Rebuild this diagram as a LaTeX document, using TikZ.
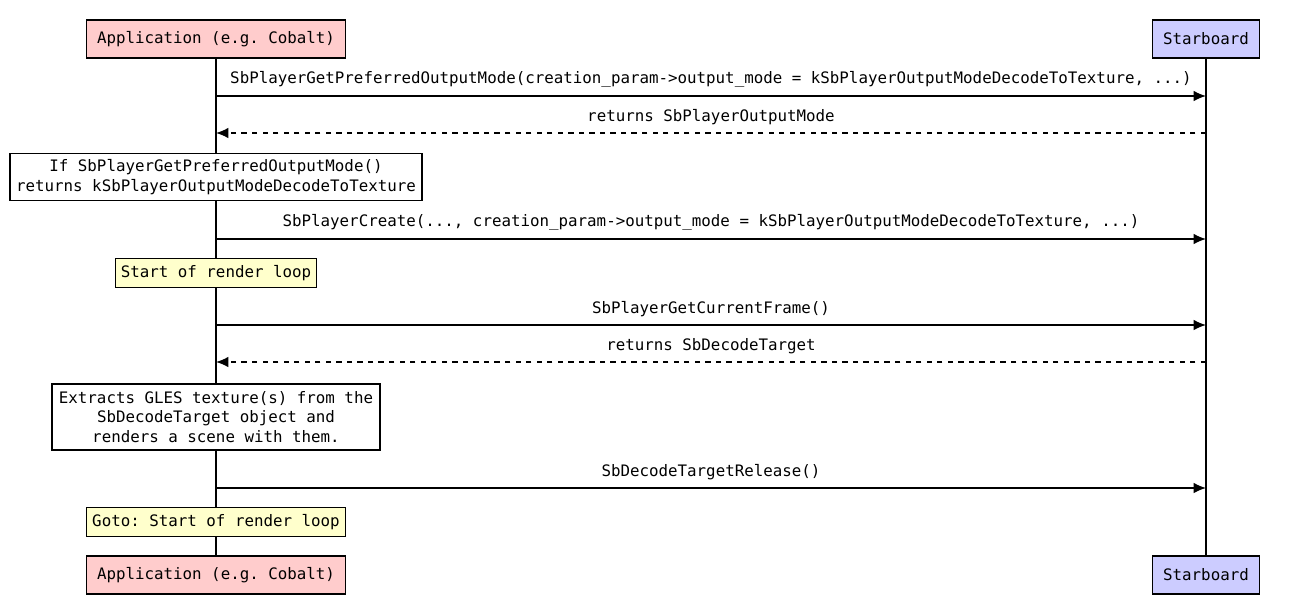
\documentclass[tikz,border=0pt]{standalone}
\usepackage{fontspec}
\setmonofont{DejaVu Sans Mono}
\usetikzlibrary{arrows.meta}
\definecolor{apppink}{HTML}{FFCCCC}
\definecolor{sbblue}{HTML}{CCCCFF}
\definecolor{noteyellow}{HTML}{FFFFCC}
\begin{document}
\begin{tikzpicture}[
                x=0.02cm, y=-0.02cm,
                every node/.style={font=\ttfamily\fontsize{9}{11}\selectfont},
                actor/.style={draw, thick, minimum height=0.76cm, inner sep=0pt},
                note/.style={draw, thick, align=center, inner sep=2pt},
                msg/.style={thick, -{Latex[length=7pt, width=6pt]}},
                reply/.style={msg, dashed}
            ]
                \useasboundingbox (0, 0) rectangle (1289, 613);

                % actors
                \node[actor, fill=apppink, minimum width=5.18cm] (app) at (216, 39) {Application (e.g. Cobalt)};
                \node[actor, fill=sbblue, minimum width=2.14cm] (sb) at (1206, 39) {Starboard};
                \node[actor, fill=apppink, minimum width=5.18cm] (appb) at (216, 575) {Application (e.g. Cobalt)};
                \node[actor, fill=sbblue, minimum width=2.14cm] (sbb) at (1206, 575) {Starboard};
                \draw[thick] (app) -- (appb);
                \draw[thick] (sb) -- (sbb);

                % messages
                \foreach \y/\kind/\txt in {
                    96/msg/{SbPlayerGetPreferredOutputMode(creation\_param->output\_mode = kSbPlayerOutputModeDecodeToTexture, ...)},
                    133/reply/{returns SbPlayerOutputMode},
                    239/msg/{SbPlayerCreate(..., creation\_param->output\_mode = kSbPlayerOutputModeDecodeToTexture, ...)},
                    325/msg/{SbPlayerGetCurrentFrame()},
                    362/reply/{returns SbDecodeTarget},
                    488/msg/{SbDecodeTargetRelease()}} {
                    \coordinate (l\y) at (216, \y);
                    \coordinate (r\y) at (1206, \y);
                    \ifx\kind\empty\fi
                }
                \draw[msg] (l96) -- node[above=1pt] {SbPlayerGetPreferredOutputMode(creation\_param->output\_mode = kSbPlayerOutputModeDecodeToTexture, ...)} (r96);
                \draw[reply] (r133) -- node[above=1pt] {returns SbPlayerOutputMode} (l133);
                \draw[msg] (l239) -- node[above=1pt] {SbPlayerCreate(..., creation\_param->output\_mode = kSbPlayerOutputModeDecodeToTexture, ...)} (r239);
                \draw[msg] (l325) -- node[above=1pt] {SbPlayerGetCurrentFrame()} (r325);
                \draw[reply] (r362) -- node[above=1pt] {returns SbDecodeTarget} (l362);
                \draw[msg] (l488) -- node[above=1pt] {SbDecodeTargetRelease()} (r488);

                % notes
                \node[note, fill=white, minimum width=8.24cm, minimum height=0.94cm] (if) at (216, 177) {If SbPlayerGetPreferredOutputMode()\\returns kSbPlayerOutputModeDecodeToTexture};
                \node[note, fill=noteyellow, minimum width=4.02cm, minimum height=0.58cm] (loop) at (216, 273) {Start of render loop};
                \node[note, fill=white, minimum width=6.56cm, minimum height=1.32cm] (extract) at (216, 417) {Extracts GLES texture(s) from the\\SbDecodeTarget object and\\renders a scene with them.};
                \node[note, fill=noteyellow, minimum width=5.18cm, minimum height=0.58cm] (goto) at (216, 522) {Goto: Start of render loop};
            \end{tikzpicture}
\end{document}
